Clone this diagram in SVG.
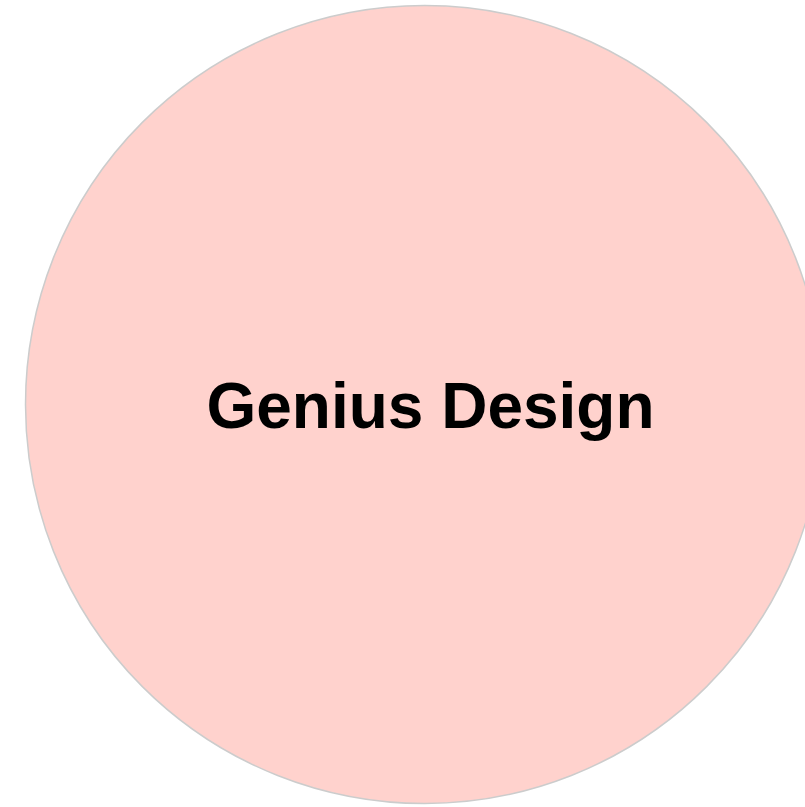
<svg xmlns="http://www.w3.org/2000/svg" width="805" height="807" viewBox="0 0 805 807">
<style>
.node{fill:#ffd2cd;stroke:#cccccc;stroke-width:1.5}
.label{font-family:"Liberation Sans",Arial,sans-serif;font-weight:bold;font-size:64px;fill:#000;text-anchor:middle}
</style>
<rect width="805" height="807" fill="#ffffff"/>
<g id="connectors"></g>
<g id="genius-design">
<circle class="node" cx="424.5" cy="404.5" r="399"/>
<text class="label" x="430.5" y="428">Genius Design</text>
</g>
</svg>
